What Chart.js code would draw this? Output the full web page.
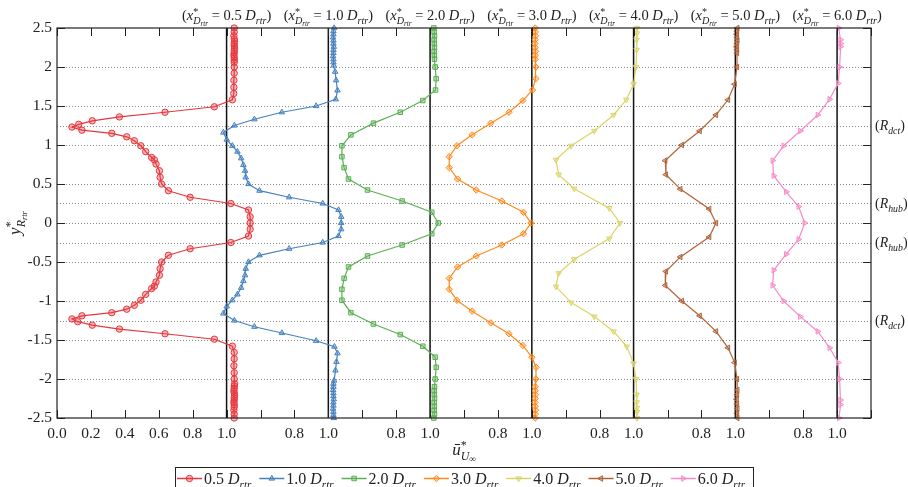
<!DOCTYPE html>
<html>
<head>
<meta charset="utf-8">
<script src="https://cdn.jsdelivr.net/npm/chart.js@4/dist/chart.umd.min.js"></script>
<style>
  html, body { margin: 0; padding: 0; background: #fff; }
  #wrap { width: 908px; height: 487px; position: relative; }
</style>
</head>
<body>
<div id="wrap"><canvas id="c" width="908" height="487"></canvas></div>
<script>
// stations downstream of the rotor and their horizontal offset on the shared axis
const stations = ["0.5", "1.0", "2.0", "3.0", "4.0", "5.0", "6.0"];
const offsets = [0, 0.6, 1.2, 1.8, 2.4, 3.0, 3.6];

// y*/R_rtr and u*/U_inf for every profile, top to bottom
const y05 = [2.50, 2.45, 2.40, 2.36, 2.33, 2.30, 2.27, 2.24, 2.21, 2.18, 2.15, 2.12, 2.09, 2.06, 2.00, 1.92, 1.83, 1.74, 1.66,
  1.58, 1.49, 1.42, 1.36, 1.31, 1.265, 1.23, 1.19, 1.15, 1.105, 1.055, 0.99, 0.915, 0.84, 0.81, 0.756, 0.67, 0.586, 0.50,
  0.414, 0.33, 0.25, 0.167, 0.08, 0.00, -0.08, -0.167, -0.25, -0.33, -0.414, -0.50, -0.586, -0.67, -0.756, -0.81, -0.84,
  -0.915, -0.99, -1.055, -1.105, -1.15, -1.19, -1.23, -1.265, -1.31, -1.36, -1.42, -1.49, -1.58, -1.66, -1.74, -1.83, -1.92,
  -2.00, -2.06, -2.09, -2.12, -2.15, -2.18, -2.21, -2.24, -2.27, -2.30, -2.33, -2.36, -2.40, -2.45, -2.50];
const u05 = [1.045, 1.045, 1.043, 1.045, 1.047, 1.045, 1.045, 1.047, 1.045, 1.045, 1.043, 1.045, 1.045, 1.045, 1.045, 1.045, 1.043, 1.043, 1.042,
  1.034, 0.928, 0.637, 0.368, 0.208, 0.128, 0.088, 0.147, 0.323, 0.411, 0.456, 0.494, 0.523, 0.558, 0.574, 0.584, 0.604, 0.608, 0.617,
  0.657, 0.785, 1.025, 1.129, 1.139, 1.139, 1.139, 1.129, 1.025, 0.785, 0.657, 0.617, 0.608, 0.604, 0.584, 0.574, 0.558,
  0.523, 0.494, 0.456, 0.411, 0.323, 0.147, 0.088, 0.122, 0.208, 0.368, 0.637, 0.928, 1.034, 1.045, 1.045, 1.043, 1.045,
  1.045, 1.047, 1.045, 1.045, 1.043, 1.045, 1.047, 1.045, 1.045, 1.043, 1.045, 1.045, 1.043, 1.045, 1.045];

const y10 = [2.50, 2.46, 2.42, 2.38, 2.34, 2.30, 2.26, 2.22, 2.18, 2.14, 2.10, 2.06, 2.02, 1.94, 1.83, 1.70, 1.586, 1.50, 1.42,
  1.33, 1.25, 1.16, 1.07, 0.99, 0.915, 0.83, 0.744, 0.67, 0.586, 0.50, 0.414, 0.33, 0.25, 0.167, 0.08, 0.00, -0.08, -0.167,
  -0.25, -0.33, -0.414, -0.50, -0.586, -0.67, -0.744, -0.83, -0.915, -0.99, -1.07, -1.16, -1.25, -1.33, -1.41, -1.51, -1.585,
  -1.67, -1.78, -1.89, -2.02, -2.06, -2.10, -2.14, -2.18, -2.22, -2.26, -2.30, -2.34, -2.38, -2.42, -2.46, -2.50];
const u10 = [1.034, 1.03, 1.03, 1.028, 1.03, 1.03, 1.032, 1.03, 1.03, 1.028, 1.03, 1.03, 1.032, 1.04, 1.046, 1.054, 1.044, 0.928, 0.726,
  0.564, 0.446, 0.381, 0.401, 0.434, 0.464, 0.486, 0.499, 0.509, 0.513, 0.529, 0.594, 0.769, 0.967, 1.06, 1.076, 1.076, 1.076, 1.06,
  0.967, 0.769, 0.594, 0.529, 0.513, 0.509, 0.499, 0.486, 0.464, 0.434, 0.401, 0.381, 0.446, 0.564, 0.726, 0.928, 1.036,
  1.054, 1.048, 1.042, 1.034, 1.03, 1.03, 1.028, 1.03, 1.03, 1.032, 1.03, 1.03, 1.028, 1.03, 1.03, 1.032];

const y20 = [2.50, 2.45, 2.40, 2.35, 2.30, 2.25, 2.20, 2.15, 2.10, 2.00, 1.85, 1.705, 1.57, 1.42, 1.28, 1.13, 0.99, 0.85, 0.71,
  0.564, 0.423, 0.282, 0.137, 0.00, -0.137, -0.282, -0.423, -0.564, -0.71, -0.85, -0.99, -1.15, -1.295, -1.43, -1.58, -1.72,
  -1.85, -2.00, -2.10, -2.15, -2.20, -2.25, -2.30, -2.35, -2.40, -2.45, -2.50];
const u20 = [1.022, 1.024, 1.026, 1.024, 1.025, 1.026, 1.024, 1.025, 1.026, 1.03, 1.036, 1.032, 0.957, 0.824, 0.666, 0.533, 0.48, 0.48, 0.493,
  0.519, 0.631, 0.835, 1.01, 1.048, 1.01, 0.835, 0.631, 0.519, 0.493, 0.48, 0.48, 0.533, 0.666, 0.824, 0.957, 1.03,
  1.036, 1.03, 1.026, 1.024, 1.025, 1.026, 1.024, 1.025, 1.024, 1.026, 1.022];

const y30 = [2.50, 2.45, 2.40, 2.35, 2.30, 2.25, 2.20, 2.15, 2.10, 2.00, 1.85, 1.705, 1.57, 1.42, 1.28, 1.13, 0.99, 0.85, 0.71,
  0.564, 0.423, 0.282, 0.137, 0.00, -0.137, -0.282, -0.423, -0.564, -0.71, -0.85, -0.99, -1.13, -1.28, -1.42, -1.57, -1.72,
  -1.85, -2.00, -2.10, -2.15, -2.20, -2.25, -2.30, -2.35, -2.40, -2.45, -2.50];
const u30 = [1.02, 1.02, 1.022, 1.02, 1.018, 1.02, 1.022, 1.02, 1.02, 1.024, 1.024, 1.004, 0.947, 0.865, 0.758, 0.648, 0.558, 0.513, 0.513,
  0.562, 0.672, 0.823, 0.951, 0.995, 0.951, 0.823, 0.672, 0.562, 0.513, 0.513, 0.558, 0.648, 0.758, 0.865, 0.947, 1.0,
  1.025, 1.024, 1.02, 1.02, 1.022, 1.02, 1.018, 1.02, 1.022, 1.02, 1.02];

const y40 = [2.50, 2.43, 2.35, 2.22, 2.00, 1.78, 1.58, 1.385, 1.18, 0.99, 0.81, 0.62, 0.44, 0.19, 0.00, -0.20, -0.465, -0.645,
  -0.815, -1.02, -1.20, -1.39, -1.585, -1.80, -2.00, -2.20, -2.30, -2.37, -2.42, -2.50];
const u40 = [1.02, 1.02, 1.018, 1.018, 1.014, 1.0, 0.957, 0.882, 0.768, 0.632, 0.542, 0.558, 0.65, 0.857, 0.92, 0.857, 0.65, 0.558,
  0.542, 0.632, 0.768, 0.882, 0.96, 1.0, 1.014, 1.018, 1.018, 1.02, 1.02, 1.02];

const y50 = [2.50, 2.46, 2.42, 2.38, 2.34, 2.30, 2.26, 2.22, 2.18, 2.00, 1.78, 1.58, 1.385, 1.18, 1.00, 0.80, 0.62, 0.435, 0.18,
  0.00, -0.18, -0.435, -0.62, -0.80, -1.00, -1.19, -1.39, -1.60, -1.79, -2.00, -2.14, -2.20, -2.26, -2.32, -2.38, -2.44, -2.50];
const u50 = [1.012, 1.01, 1.008, 1.01, 1.012, 1.01, 1.008, 1.01, 1.01, 1.01, 0.996, 0.957, 0.886, 0.79, 0.685, 0.587, 0.591, 0.676, 0.846,
  0.886, 0.846, 0.676, 0.591, 0.587, 0.685, 0.79, 0.886, 0.957, 0.996, 1.01, 1.012, 1.01, 1.008, 1.01, 1.012, 1.01, 1.012];

const y60 = [2.50, 2.35, 2.30, 2.26, 2.00, 1.79, 1.586, 1.385, 1.18, 0.99, 0.80, 0.606, 0.40, 0.21, 0.00, -0.21, -0.40, -0.606,
  -0.80, -1.00, -1.20, -1.39, -1.60, -1.79, -2.00, -2.27, -2.33, -2.50];
const u60 = [1.01, 1.02, 1.022, 1.02, 1.015, 1.006, 0.956, 0.886, 0.783, 0.685, 0.62, 0.626, 0.70, 0.773, 0.809, 0.773, 0.70, 0.626,
  0.62, 0.685, 0.783, 0.886, 0.956, 1.006, 1.015, 1.02, 1.02, 1.012];

const yProfiles = [y05, y10, y20, y30, y40, y50, y60];
const uProfiles = [u05, u10, u20, u30, u40, u50, u60];

// axis ticks and labels
const xTickLabels = ["0.0", "0.2", "0.4", "0.6", "0.8", "1.0", "", "0.8", "1.0", "", "0.8", "1.0", "", "0.8", "1.0",
  "", "0.8", "1.0", "", "0.8", "1.0", "", "0.8", "1.0", ""];
const yTicks = [-2.5, -2, -1.5, -1, -0.5, 0, 0.5, 1, 1.5, 2, 2.5];
const yTickLabels = ["-2.5", "-2", "-1.5", "-1", "-0.5", "0", "0.5", "1", "1.5", "2", "2.5"];
// dotted reference levels and the named radii
const yLevels = [2, 1.5, 1.25, 1, 0.5, 0.25, 0, -0.25, -0.5, -1, -1.25, -1.5, -2];
const radiusLevels = [1.25, 0.25, -0.25, -1.25];
const radiusNames = ["dct", "hub", "hub", "dct"];

const colors = ["#e6373d", "#4682bf", "#5cb054", "#ff8a1c", "#dcd368", "#b0643a", "#f58cc8"];
const markers = ["circle", "triangle", "rect", "rectRot", "triangle", "triangle", "triangle"];
const markerTurn = [0, 0, 0, 0, 180, 270, 90];

const SERIF = '"Liberation Serif", "DejaVu Serif", serif';
function mathFont(size, it) { return (it ? "italic " : "") + size + "px " + SERIF; }

// draws a run of text pieces with sub/superscripts; stack:true starts a piece under the previous one
function drawMath(ctx, parts, x, y, size, align) {
  let cur = 0, last = 0;
  const pos = [];
  parts.forEach(p => {
    ctx.font = mathFont(size * (p.s || 1), p.it);
    const w = ctx.measureText(p.t).width;
    const start = p.stack ? last : cur;
    pos.push(start);
    last = start;
    cur = Math.max(cur, start + w);
  });
  const x0 = align === "center" ? x - cur / 2 : align === "right" ? x - cur : x;
  ctx.textAlign = "left";
  ctx.textBaseline = "alphabetic";
  parts.forEach((p, i) => {
    ctx.font = mathFont(size * (p.s || 1), p.it);
    ctx.fillText(p.t, x0 + pos[i], y + (p.dy || 0) * size);
  });
  return cur;
}

function seg(ctx, x1, y1, x2, y2) {
  ctx.beginPath(); ctx.moveTo(x1, y1); ctx.lineTo(x2, y2); ctx.stroke();
}

function withAlpha(hex, a) {
  const n = parseInt(hex.slice(1), 16);
  return "rgba(" + (n >> 16) + "," + ((n >> 8) & 255) + "," + (n & 255) + "," + a + ")";
}

const datasets = stations.map((st, k) => ({
  label: st + " D_rtr",
  data: yProfiles[k].map((yv, i) => ({ x: offsets[k] + uProfiles[k][i], y: yv })),
  showLine: true,
  borderColor: colors[k],
  backgroundColor: withAlpha(colors[k], 0.35),
  borderWidth: 1.2,
  pointStyle: markers[k],
  pointRotation: markerTurn[k],
  pointRadius: 3.2,
  pointBorderWidth: 1,
  pointBorderColor: colors[k],
  pointBackgroundColor: withAlpha(colors[k], 0.35),
  clip: false
}));

const decor = {
  id: "decor",
  beforeDatasetsDraw(chart) {
    const { ctx, chartArea: a, scales: { x, y } } = chart;
    ctx.save();
    ctx.strokeStyle = "#8a8a8a";
    ctx.lineWidth = 1;
    ctx.setLineDash([1, 2]);
    yLevels.forEach(v => {
      const py = Math.round(y.getPixelForValue(v)) + 0.5;
      seg(ctx, a.left, py, a.right, py);
    });
    ctx.setLineDash([]);
    // free-stream reference u = 1 for each station
    ctx.strokeStyle = "#111";
    ctx.lineWidth = 1.5;
    offsets.forEach(o => {
      const px = x.getPixelForValue(o + 1);
      seg(ctx, px, a.top, px, a.bottom);
    });
    ctx.restore();
  },
  afterDraw(chart) {
    const { ctx, chartArea: a, scales: { x, y } } = chart;
    ctx.save();
    ctx.strokeStyle = "#222";
    ctx.lineWidth = 1.2;
    ctx.strokeRect(a.left, a.top, a.right - a.left, a.bottom - a.top);

    // inward tick marks on all four sides
    const tl = 8;
    ctx.lineWidth = 1;
    xTickLabels.forEach((_, i) => {
      const px = Math.round(x.getPixelForValue(i * 0.2)) + 0.5;
      seg(ctx, px, a.top, px, a.top + tl);
      seg(ctx, px, a.bottom, px, a.bottom - tl);
    });
    yTicks.forEach(v => {
      const py = Math.round(y.getPixelForValue(v)) + 0.5;
      seg(ctx, a.left, py, a.left + tl, py);
      seg(ctx, a.right, py, a.right - tl, py);
    });

    ctx.fillStyle = "#222";
    // station captions above each reference line
    stations.forEach((st, k) => {
      const px = x.getPixelForValue(offsets[k] + 1);
      drawMath(ctx, [
        { t: "(" }, { t: "x", it: 1 }, { t: "*", s: 0.7, dy: -0.35 },
        { t: "D", it: 1, s: 0.7, dy: 0.3, stack: 1 }, { t: "rtr", it: 1, s: 0.5, dy: 0.42 },
        { t: " = " + st + " " }, { t: "D", it: 1 }, { t: "rtr", it: 1, s: 0.7, dy: 0.25 }, { t: ")" }
      ], px, 20, 14.5, "center");
    });

    // named radii on the right
    radiusLevels.forEach((v, i) => {
      const py = y.getPixelForValue(v);
      drawMath(ctx, [{ t: "(" }, { t: "R", it: 1 }, { t: radiusNames[i], it: 1, s: 0.7, dy: 0.25 }, { t: ")" }],
        a.right + 4, py + 4.5, 14, "left");
    });

    // axis titles
    drawMath(ctx, [{ t: "ū", it: 1 }, { t: "*", s: 0.7, dy: -0.35 },
      { t: "U", it: 1, s: 0.7, dy: 0.3, stack: 1 }, { t: "∞", s: 0.55, dy: 0.42 }],
      (a.left + a.right) / 2, 455, 17, "center");
    ctx.save();
    ctx.translate(20, (a.top + a.bottom) / 2);
    ctx.rotate(-Math.PI / 2);
    drawMath(ctx, [{ t: "y", it: 1 }, { t: "*", s: 0.7, dy: -0.35 },
      { t: "R", it: 1, s: 0.7, dy: 0.3, stack: 1 }, { t: "rtr", it: 1, s: 0.5, dy: 0.42 }], 0, 0, 17, "center");
    ctx.restore();

    // legend box along the bottom
    const lx0 = 175, ly0 = 467, pitch = 82.3, rowY = 478.5;
    ctx.strokeStyle = "#222";
    ctx.lineWidth = 1;
    ctx.strokeRect(lx0 + 0.5, ly0 + 0.5, 578, 30);
    chart.data.datasets.forEach((ds, k) => {
      const sx = lx0 + 2 + k * pitch;
      ctx.strokeStyle = ds.borderColor;
      ctx.lineWidth = 1.5;
      seg(ctx, sx, rowY, sx + 25, rowY);
      ctx.fillStyle = ds.pointBackgroundColor;
      ctx.strokeStyle = ds.pointBorderColor;
      ctx.lineWidth = 1;
      Chart.helpers.drawPoint(ctx, { pointStyle: ds.pointStyle, rotation: ds.pointRotation, radius: 3.2, borderWidth: 1 },
        sx + 12.5, rowY);
      ctx.fillStyle = "#222";
      drawMath(ctx, [{ t: stations[k] + " " }, { t: "D", it: 1 }, { t: "rtr", it: 1, s: 0.7, dy: 0.25 }],
        sx + 27, 484, 16, "left");
    });
    ctx.restore();
  }
};

new Chart(document.getElementById("c"), {
  type: "scatter",
  data: { datasets },
  options: {
    responsive: false,
    animation: false,
    layout: { padding: { top: 28, right: 37, left: 0, bottom: 0 } },
    plugins: { legend: { display: false }, tooltip: { enabled: false } },
    scales: {
      x: {
        type: "linear", min: 0, max: 4.8,
        afterBuildTicks: s => { s.ticks = xTickLabels.map((_, i) => ({ value: i * 0.2 })); },
        afterFit: s => { s.height = 69; },
        grid: { display: false, drawTicks: false },
        border: { display: false },
        ticks: {
          autoSkip: false, maxRotation: 0, padding: 7, color: "#222",
          font: { family: SERIF, size: 15.5 },
          callback: (v, i) => xTickLabels[i]
        }
      },
      y: {
        type: "linear", min: -2.5, max: 2.5,
        afterBuildTicks: s => { s.ticks = yTicks.map(v => ({ value: v })); },
        afterFit: s => { s.width = 57; },
        grid: { display: false, drawTicks: false },
        border: { display: false },
        ticks: {
          padding: 5, color: "#222",
          font: { family: SERIF, size: 15.5 },
          callback: (v, i) => yTickLabels[i]
        }
      }
    }
  },
  plugins: [decor]
});
</script>
</body>
</html>
